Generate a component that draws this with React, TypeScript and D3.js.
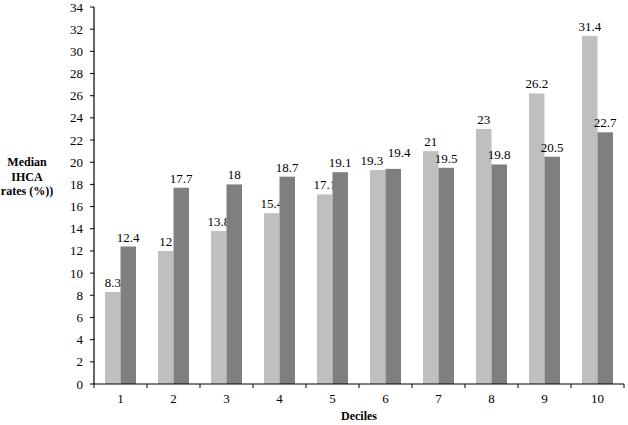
import React from "react";
import * as d3 from "d3";

const categories = ["1", "2", "3", "4", "5", "6", "7", "8", "9", "10"];
const seriesLight = [8.3, 12, 13.8, 15.4, 17.1, 19.3, 21, 23, 26.2, 31.4];
const seriesDark = [12.4, 17.7, 18, 18.7, 19.1, 19.4, 19.5, 19.8, 20.5, 22.7];
const yTicks = d3.range(0, 35, 2);

const W = 628, H = 425;
const left = 94, right = 624, top = 7, bottom = 384;
const font = "'Liberation Serif', 'Times New Roman', serif";

export default function App() {
  const x = d3.scaleBand<string>().domain(categories).range([left, right]).paddingInner(0).paddingOuter(0);
  const inner = d3.scaleBand<string>().domain(["a", "b"]).range([0, x.bandwidth()]).paddingInner(0).paddingOuter(0.71);
  const y = d3.scaleLinear().domain([0, 34]).range([bottom, top]);
  const series = [
    { key: "a", values: seriesLight, color: "#bfbfbf" },
    { key: "b", values: seriesDark, color: "#7f7f7f" },
  ];
  const boundaries = categories.map((c) => x(c)!).concat([right]);
  return (
    <svg width={W} height={H} style={{ position: "absolute", left: 0, top: 0 }} fontFamily={font}>
      <rect width={W} height={H} fill="#fff" />
      {series.map((s, si) =>
        s.values.map((v, i) => {
          const bx = x(categories[i])! + inner(s.key)!;
          const bw = inner.bandwidth();
          const a = seriesLight[i], b = seriesDark[i];
          const clash = Math.abs(y(a) - y(b)) < 10;
          let dx = 0, dy = 0;
          if (clash) {
            if (si === 0) dx = -6;
            else { dx = 6; dy = -7; }
          }
          return (
            <g key={s.key + i}>
              <rect x={bx} y={y(v)} width={bw} height={bottom - y(v)} fill={s.color} />
              <text x={bx + bw / 2 + dx} y={y(v) - 5 + dy} textAnchor="middle" fontSize={13} fill="#000">
                {String(v)}
              </text>
            </g>
          );
        })
      )}
      <line x1={left} x2={left} y1={top} y2={bottom} stroke="#000" strokeWidth={1.2} />
      <line x1={left} x2={right} y1={bottom} y2={bottom} stroke="#000" strokeWidth={1.2} />
      {yTicks.map((t) => (
        <g key={"y" + t}>
          <line x1={left - 4} x2={left} y1={y(t)} y2={y(t)} stroke="#000" />
          <text x={left - 11} y={y(t) + 4.5} textAnchor="end" fontSize={13}>
            {t}
          </text>
        </g>
      ))}
      {boundaries.map((bd, i) => (
        <line key={"xt" + i} x1={bd} x2={bd} y1={bottom} y2={bottom + 4} stroke="#000" />
      ))}
      {categories.map((c) => (
        <text key={"xl" + c} x={x(c)! + x.bandwidth() / 2} y={403} textAnchor="middle" fontSize={13}>
          {c}
        </text>
      ))}
      <text x={359} y={420} textAnchor="middle" fontSize={12} fontWeight="bold">
        Deciles
      </text>
      <g fontSize={12} fontWeight="bold" textAnchor="middle">
        <text x={27} y={166}>Median</text>
        <text x={27} y={180.5}>IHCA</text>
        <text x={27} y={195}>rates (%))</text>
      </g>
    </svg>
  );
}
